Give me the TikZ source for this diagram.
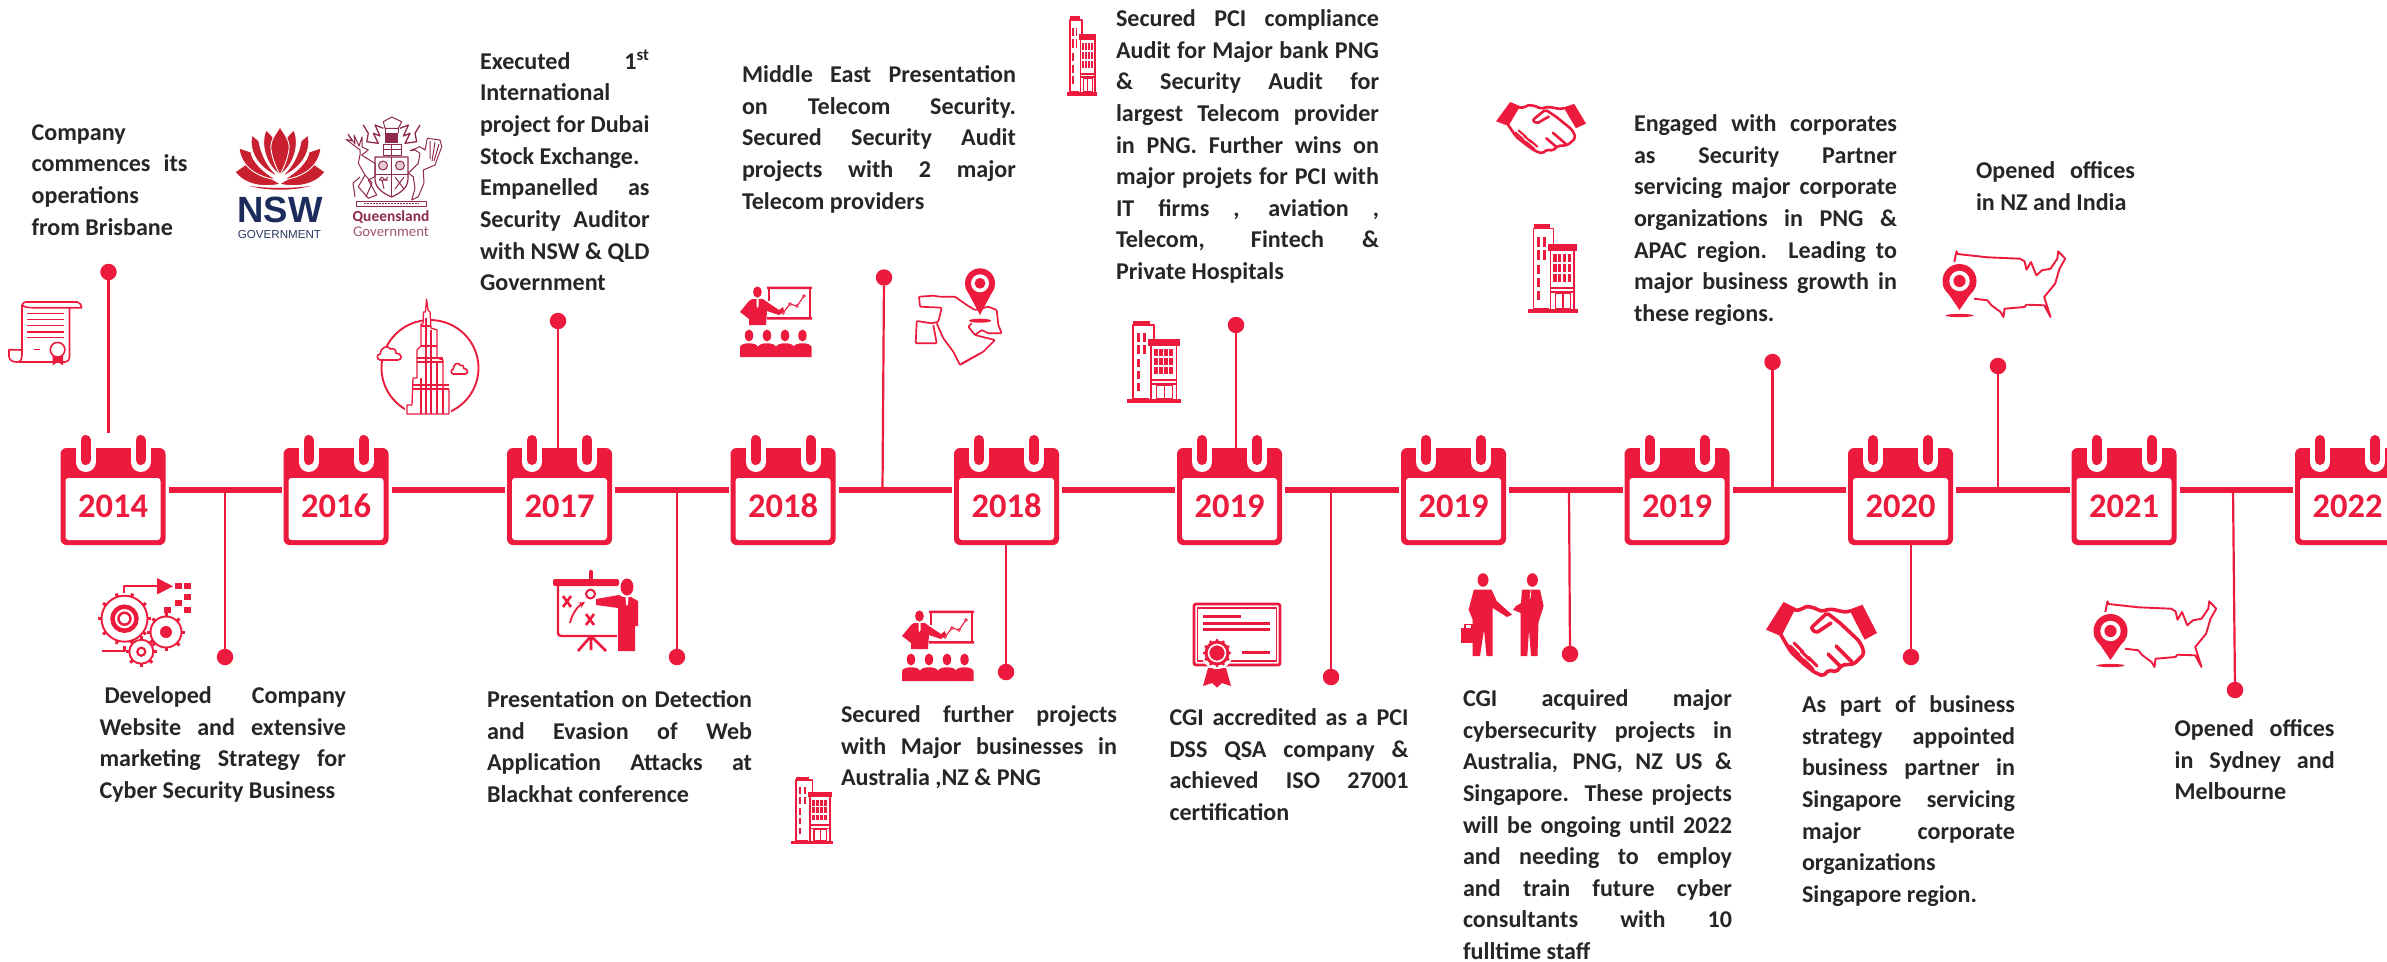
\documentclass[tikz,border=0pt]{standalone}
\usepackage{fontspec}
\setmainfont{Carlito}
\newfontfamily\lib{Liberation Sans}
\definecolor{cgired}{HTML}{EC1A3C}
\definecolor{ink}{HTML}{262626}
\definecolor{waratah}{HTML}{C8202F}
\definecolor{nswnavy}{HTML}{1B2C5C}
\definecolor{qldm}{HTML}{8E2A4E}
\newcommand{\strutline}{\rule[-9pt]{0pt}{22pt}}
\newcommand{\js}[1]{\strutline\makebox[\tw pt][s]{#1}}
\newcommand{\jn}[1]{\strutline #1}
\tikzset{
  txt/.style={anchor=north west,inner sep=0pt,outer sep=0pt,align=left,text=ink,yshift=8.5pt,
    font=\fontsize{24.1}{31.65}\selectfont\bfseries},
  calbody/.style={draw=none,fill=cgired,rounded corners=6pt,minimum width=105pt,minimum height=97pt,inner sep=0pt,outer sep=0pt},
  calinner/.style={draw=none,fill=white,rounded corners=3pt,minimum width=95pt,minimum height=62pt,inner sep=0pt},
  yeartext/.style={text=cgired,inner sep=0pt,font=\fontsize{34.5}{36}\selectfont\bfseries},
  bar/.style={cgired,line width=6.5pt,shorten <=3pt,shorten >=2pt},
  stem/.style={cgired,line width=2.2pt},
  dot/.style={circle,fill=cgired,draw=none,minimum size=16.5pt,inner sep=0pt,outer sep=0pt},
  ico/.style={cgired,line width=1.6pt,line join=round},
  qld/.style={qldm,line width=1pt,line join=round},
  petal/.style={fill=waratah,draw=white,line width=.9pt,line join=round}
}
\newcommand{\calmark}[3]{%
  \node[calbody] (#1) at (#2,496.5) {};
  \node[calinner] (#1i) at (#2,509) {};
  \node[yeartext] (#1y) at (#2,506) {#3};
  \foreach \s in {-27.5,27.5}{
    \draw[white,line width=20pt,line cap=round] (#2+\s,440)--(#2+\s,462);
    \draw[cgired,line width=10pt,line cap=round] (#2+\s,440)--(#2+\s,460);
  }
}
% building: x y w h
\newcommand{\bld}[4]{%
 \begin{scope}[shift={(#1,#2)},xscale=#3/53,yscale=#4/82]
  \fill[cgired] (0,78) rectangle (53,82);
  \draw[ico] (6,4) rectangle (27,78);
  \fill[cgired] (6,0) rectangle (23,5);
  \foreach \yy in {12,24}{\fill[cgired] (10,\yy) rectangle (13,\yy+9);\fill[cgired] (16,\yy) rectangle (19,\yy+9);}
  \foreach \yy in {38,50,62}{\fill[cgired] (10,\yy) rectangle (13,\yy+8);}
  \fill[white] (22,20) rectangle (51,78);
  \draw[ico] (24,22) -- (24,78) (49,22) -- (49,78);
  \fill[cgired] (21,18) rectangle (52,25);
  \foreach \xx in {27,32,37,42}{\foreach \yy in {28,37,46}{\fill[cgired] (\xx,\yy) rectangle (\xx+3.4,\yy+7);}}
  \fill[cgired] (24,58) rectangle (49,60);
  \fill[cgired] (24,62) rectangle (49,63.5);
  \draw[ico,line width=1.2pt] (29,64) rectangle (45,78) (37,64)--(37,78);
 \end{scope}}
% teacher with chart and audience
\newcommand{\teacher}[2]{%
 \begin{scope}[shift={(#1,#2)}]
  \fill[cgired] (27,.5) rectangle (72,3) (27,31) rectangle (72,33.5);
  \draw[ico,line width=1.2pt] (29,2)--(29,15) (70,2)--(70,32);
  \draw[ico,line width=1.1pt] (43,27)--(50,18)--(57,20)--(64,10);
  \foreach \p in {(43,27),(50,18),(57,20),(64,10)} \draw[ico,line width=.9pt,fill=white] \p circle (1.4);
  \fill[cgired] (17.4,6) ellipse [x radius=4.4,y radius=5.6];
  \fill[cgired] (12,13)--(23,13)--(27,16)--(39,24)--(43,21)--(44,25)--(39,29)--(27,25)--(26,39)--(9,39)--(9,33)--(0,26)--(9,15)--cycle;
  \fill[white] (16.5,13)--(18.5,13)--(18.5,20)--(17.5,22)--(16.5,20)--cycle;
  \foreach \q in {9,27,45,62.5}{
    \fill[cgired] (\q,49.5) ellipse [x radius=4.2,y radius=6];
    \fill[cgired] (\q-9,71) -- (\q-9,61) .. controls (\q-8,56) and (\q+8,56) .. (\q+9,61) -- (\q+9,71) -- cycle;
  }
 \end{scope}}
% pin: cx head-y r tip-y
\newcommand{\pinmark}[4]{%
  \fill[cgired] (#1,#2) circle (#3);
  \fill[cgired] (#1-#3*.96,#2+#3*.3)--(#1,#4)--(#1+#3*.96,#2+#3*.3)--cycle;
  \fill[white] (#1,#2) circle (#3*.6);
  \fill[cgired] (#1,#2) circle (#3*.36);
}
% USA map with pin
\newcommand{\usamap}[2]{%
 \begin{scope}[shift={(#1,#2)}]
  \draw[ico,line width=1.9pt] (11.8,11)--(14,.3)--(14.9,3)--(44.7,6.3)--(77.6,7.7)--(82,10.3)--(84,18.7)--(88.5,11)--(93.8,24.3)--(99.5,19.3)--(108,17.7)--(114.8,7.7)--(115.7,.3)--(122.7,7.7)--(117,17.7)--(112.6,32.7)--(101.7,46)--(108,66)--(101.7,54.3)--(84,53.7)--(82,56)--(62,57.7)--(61,66)--(58,61)--(49,54.3)--(44.7,49.3)--(31.5,47.7);
  \pinmark{17}{30}{17}{59}
  \fill[cgired] (17,64.5) ellipse [x radius=14,y radius=1.6];
 \end{scope}}
% handshake
\newcommand{\shake}[5]{%
 \begin{scope}[shift={(#1,#2)},xscale=#3/111,yscale=#4/76]
  \fill[cgired] (17.5,0)--(29.8,6)--(15.3,34.3)--(0,27.7)--cycle;
  \fill[cgired] (96.4,2.7)--(111,31)--(98.6,37.7)--(83.3,7.7)--cycle;
  \draw[cgired,line width=#5pt,line join=round,line cap=round,rounded corners=2pt]
    (29,8) .. controls (36,9) and (38,4) .. (44,5) .. controls (50,6) and (54,10) .. (60,8) .. controls (70,6) and (76,12) .. (84,9)
    (15,33) -- (25,50) -- (38,62) -- (48,70) -- (57,74) -- (63,68) -- (70,70) -- (76,63) -- (88,62) -- (98,52) -- (96,44) -- (92,38)
    (92,38) -- (74,21) -- (61,11) -- (45,26) -- (50,31) -- (65,21);
  \draw[cgired,line width=#5pt,line cap=round] (70,44)--(86,60) (62,52)--(74,64);
  \foreach \xx/\yy in {24/44,31/52,38/58}{
    \draw[cgired,line width=#5pt*.8,line cap=round] (\xx,\yy)--(\xx+9,\yy+9);
    \draw[cgired,line width=#5pt*.8,line cap=round] (\xx+4,\yy-3)--(\xx+13,\yy+6);
  }
 \end{scope}}
\newcommand{\cloudmark}[4]{%
 \begin{scope}[shift={(#1,#2)},xscale=#3/24,yscale=#4/15]
  \draw[ico,fill=white] (3,15) .. controls (0,15) and (-1,9) .. (3,9) .. controls (3,3) and (10,-1) .. (13,4) .. controls (16,3) and (19,5) .. (18,8) .. controls (24,8) and (25,15) .. (20,15) -- cycle;
 \end{scope}}
\newcommand{\gearmark}[5]{% cx cy r teeth inner
  \foreach \a in {0,#4,...,359}{\draw[cgired,line width=3pt] (#1,#2)++(\a:#3-2) -- ++(\a:4);}
  \draw[cgired,line width=1.9pt,fill=white] (#1,#2) circle (#3-1.5);
}
\newcommand{\petalsL}{%
  \path[petal] (0,45) -- (17,33) .. controls (24,44) and (36,52) .. (46,57) .. controls (28,61) and (10,58) .. (0,45) -- cycle;
  \path[petal] (4,21) -- (16,25) .. controls (17,34) and (28,45) .. (42,53) .. controls (22,50) and (6,40) .. (4,21) -- cycle;
  \path[petal] (17,8) -- (24,14) .. controls (26,28) and (34,42) .. (44,50) .. controls (24,42) and (13,25) .. (17,8) -- cycle;
  \path[petal] (31,3) .. controls (36,7) and (39,11) .. (41,16) -- (45,48) .. controls (31,38) and (25,18) .. (31,3) -- cycle;
}
\begin{document}
\begin{tikzpicture}[x=1pt,y=-1pt]
\useasboundingbox (0,0) rectangle (2387,961);
\fill[white] (0,0) rectangle (2387,961);

% ---------- calendars
\calmark{c1}{113}{2014}
\calmark{c2}{336}{2016}
\calmark{c3}{559.5}{2017}
\calmark{c4}{783}{2018}
\calmark{c5}{1006.5}{2018}
\calmark{c6}{1229.5}{2019}
\calmark{c7}{1453.5}{2019}
\calmark{c8}{1677}{2019}
\calmark{c9}{1900.5}{2020}
\calmark{c10}{2124}{2021}
\calmark{c11}{2347.5}{2022}
\foreach \a/\b in {c1/c2,c2/c3,c3/c4,c4/c5,c5/c6,c6/c7,c7/c8,c8/c9,c9/c10,c10/c11}
  \draw[bar] ([yshift=6.5pt]\a.east) -- ([yshift=6.5pt]\b.west);

% ---------- connectors
\node[dot] (d1) at (108.5,272) {};
\coordinate (e1) at (108.5,433);
\draw[stem] (d1) -- (e1);
\node[dot] (d2) at (225,657) {};
\coordinate (j2) at (225,490);
\draw[stem] (j2) -- (d2);
\node[dot] (d3) at (558,321) {};
\draw[stem] (d3) -- (d3 |- c3.north);
\node[dot] (d4) at (677,657) {};
\coordinate (j4) at (677,490);
\draw[stem] (j4) -- (d4);
\node[dot] (d5) at (884,277.5) {};
\coordinate (j5) at (882.5,490);
\draw[stem] (d5) -- (j5);
\node[dot] (d6) at (1006,672) {};
\draw[stem] (d6) -- (d6 |- c5.south);
\node[dot] (d7) at (1236,325) {};
\draw[stem] (d7) -- (d7 |- c6.north);
\node[dot] (d8) at (1331,677) {};
\coordinate (j8) at (1331,490);
\draw[stem] (j8) -- (d8);
\node[dot] (d9) at (1570,654) {};
\coordinate (j9) at (1569,490);
\draw[stem] (j9) -- (d9);
\node[dot] (d10) at (1772.5,362) {};
\coordinate (j10) at (1772.5,490);
\draw[stem] (d10) -- (j10);
\node[dot] (d11) at (1911,657) {};
\draw[stem] (d11) -- (d11 |- c9.south);
\node[dot] (d12) at (1998,366) {};
\coordinate (j12) at (1998,490);
\draw[stem] (d12) -- (j12);
\node[dot] (d13) at (2235,690) {};
\coordinate (j13) at (2233,490);
\draw[stem] (j13) -- (d13);

% ---------- texts
\node[txt] (t1) at (31.6,133) {\gdef\tw{156}\jn{Company}\\\js{commences its}\\\jn{operations}\\\jn{from Brisbane}};
\node[txt] (t2) at (99.5,695) {\gdef\tw{246.5}\js{\hspace*{5pt}Developed Company}\\\js{Website and extensive}\\\js{marketing Strategy for}\\\jn{Cyber Security Business}};
\node[txt] (t3) at (480,58) {\gdef\tw{169.5}\js{Executed 1\textsuperscript{st}}\\\jn{International}\\\js{project for Dubai}\\\jn{Stock Exchange.}\\\js{Empanelled as}\\\js{Security Auditor}\\\js{with NSW \& QLD}\\\jn{Government}};
\node[txt] (t4) at (487,699) {\gdef\tw{265}\js{Presentation on Detection}\\\js{and Evasion of Web}\\\js{Application Attacks at}\\\jn{Blackhat conference}};
\node[txt] (t5) at (742,74) {\gdef\tw{274}\js{Middle East Presentation}\\\js{on Telecom Security.}\\\js{Secured Security Audit}\\\js{projects with 2 major}\\\jn{Telecom providers}};
\node[txt] (t6) at (841,714) {\gdef\tw{276}\js{Secured further projects}\\\js{with Major businesses in}\\\jn{Australia ,NZ \& PNG}};
\node[txt] (t7) at (1116,18) {\gdef\tw{263}\js{Secured PCI compliance}\\\js{Audit for Major bank PNG}\\\js{\& Security Audit for}\\\js{largest Telecom provider}\\\js{in PNG. Further wins on}\\\js{major projets for PCI with}\\\js{IT firms , aviation ,}\\\js{Telecom, Fintech \&}\\\jn{Private Hospitals}};
\node[txt] (t8) at (1169.5,717) {\gdef\tw{239}\js{CGI accredited as a PCI}\\\js{DSS QSA company \&}\\\js{achieved ISO 27001}\\\jn{certification}};
\node[txt] (t9) at (1463,698) {\gdef\tw{269}\js{CGI acquired major}\\\js{cybersecurity projects in}\\\js{Australia, PNG, NZ US \&}\\\js{Singapore. These projects}\\\js{will be ongoing until 2022}\\\js{and needing to employ}\\\js{and train future cyber}\\\js{consultants with 10}\\\jn{fulltime staff}};
\node[txt] (t10) at (1634,123) {\gdef\tw{263}\js{Engaged with corporates}\\\js{as Security Partner}\\\js{servicing major corporate}\\\js{organizations in PNG \&}\\\js{APAC region. Leading to}\\\js{major business growth in}\\\jn{these regions.}};
\node[txt] (t11) at (1802,704) {\gdef\tw{213}\js{As part of business}\\\js{strategy appointed}\\\js{business partner in}\\\js{Singapore servicing}\\\js{major corporate}\\\jn{organizations}\\\jn{Singapore region.}};
\node[txt] (t12) at (1976,170) {\gdef\tw{159}\js{Opened offices}\\\jn{in NZ and India}};
\node[txt] (t13) at (2174.6,728) {\gdef\tw{160}\js{Opened offices}\\\js{in Sydney and}\\\jn{Melbourne}};

% ---------- scroll icon
\begin{scope}[shift={(9,302)}]
  \draw[ico] (23,5.7) .. controls (19,5.7) and (15,5) .. (13,3) .. controls (14,1) and (15,0) .. (17,0) -- (68.4,0) .. controls (71,1) and (72.7,3) .. (72.7,5.7) -- (23,5.7);
  \draw[ico] (13,3) -- (13,50) .. controls (13,56) and (13,60) .. (8,60) -- (56,60) .. controls (59,60) and (60.5,58) .. (60.5,55) -- (60.5,5.7);
  \draw[ico] (13,48) -- (0,47.7) -- (0,54) .. controls (0,58) and (3,60) .. (8,60);
  \foreach \yy in {11.7,17.7,23.3,30,35.7} \draw[ico,line width=1.3pt] (18,\yy)--(55,\yy);
  \draw[ico,line width=1.3pt] (25,47.7)--(31,47.7);
  \fill[cgired] (43.6,54)--(54,54)--(54,63.3)--(48.8,60)--(43.6,63.3)--cycle;
  \draw[ico,fill=white] (48.6,47.7) circle (7.3);
\end{scope}

% ---------- NSW logo
\begin{scope}[shift={(235,127)}]
  \begin{scope}\petalsL\end{scope}
  \begin{scope}[shift={(90,0)},xscale=-1]\petalsL\end{scope}
  \path[petal] (45,0) .. controls (50,8) and (55,14) .. (54,22) .. controls (53,32) and (48,42) .. (45,48) .. controls (42,42) and (37,32) .. (36,22) .. controls (35,14) and (40,8) .. (45,0) -- cycle;
  \fill[waratah] (14,59) .. controls (34,64) and (56,64) .. (76,59) .. controls (56,61.5) and (34,61.5) .. (14,59) -- cycle;
\end{scope}
\node[inner sep=0pt,text=nswnavy,font={\lib\fontsize{36.5}{36}\selectfont\bfseries}] (nsw) at (280,209.5) {NSW};
\node[inner sep=0pt,text=nswnavy!85!gray,font={\lib\fontsize{11.6}{12}\selectfont}] (nswg) at (279.5,235) {GOVERNMENT};

% ---------- Queensland crest
\begin{scope}[shift={(346,117)}]
  % shield
  \draw[qld,line width=1.2pt] (29,40) -- (62,40) -- (62,62) .. controls (62,72) and (52,77) .. (45.7,80) .. controls (39,77) and (29,72) .. (29,62) -- cycle;
  \draw[qld] (45.7,40)--(45.7,80) (29,57)--(62,57);
  \draw[qld,fill=qldm!25] (37,48.5) circle (4.5) (54,48.5) circle (4.5);
  \draw[qld] (33,63)--(36,60)--(39,63)--(42,60) (33,63)--(42,63) (36,63)--(38,72) (49,60)--(58,72) (58,60)--(49,72);
  % crown and helm
  \fill[qldm] (39,16.3) rectangle (52,26.3);
  \draw[qld] (37.3,4.7) -- (45.7,0) -- (55.7,4.7) -- (52.3,11.3) -- (39,11.3) -- cycle;
  \draw[qld] (39,11.3) -- (39,16.3) (52.3,11.3) -- (52.3,16.3) (37,27) rectangle (55,38);
  \draw[qld] (45.7,27)--(45.7,38) (37,32)--(55,32);
  % mantling
  \draw[qld,line width=1.3pt] (17.3,8) -- (22.3,16.3) -- (20.7,24.7) -- (32.3,26.3) -- (27.3,16.3) -- (34,19) -- (29,8) -- (37.3,11.3);
  \draw[qld,line width=1.3pt] (74,8) -- (69,16.3) -- (70.7,24.7) -- (59,26.3) -- (64,16.3) -- (57.4,19) -- (62.4,8) -- (54,11.3);
  % stag
  \draw[qld] (14,33) -- (0,22.3) -- (6,24) -- (2,17) -- (9,27) -- (8,18) -- (13,29) -- (16,20) -- (16,30) -- (22.3,33) -- (15.7,38) -- (20.7,41.3) -- (29,46.3) -- (29,59.7) -- (22.3,63) -- (30.7,78) -- (22.3,81.3) -- (12.3,69.7) -- (19,58) -- (12.3,46.3) -- (14,38) -- cycle;
  \draw[qld] (14,60) -- (7,66) -- (9,80) (19,58) -- (26,66) -- (20,80);
  % brolga
  \draw[qld] (81.3,21.3) -- (94,23) -- (95.7,29.7) -- (89,48) -- (77.3,53) -- (78,66) -- (72.3,79.7) -- (65.7,83) -- (69,71.3) -- (67.3,59.7) -- (62.3,56.3) -- (72.3,46.3) -- (74,36.3) -- (69,33) -- (64,33.7) -- (74,29.7) -- (79,33) -- cycle;
  \draw[qld] (84,24) -- (84,42) (89,25) -- (86,44) (93,27) -- (88,44);
  % motto
  \draw[qld] (10.7,84) rectangle (80.7,89.5);
  \draw[qld,line width=1.4pt,dash pattern=on 2pt off 1pt] (18,86.7)--(73,86.7);
\end{scope}
\node[inner sep=0pt,text=qldm,font=\fontsize{15.4}{16}\selectfont\bfseries] (qg1) at (391,217) {Queensland};
\node[inner sep=0pt,text=qldm!80!white,font=\fontsize{14.8}{16}\selectfont] (qg2) at (391,232) {Government};

% ---------- Burj circle icon
\draw[ico,line width=1.9pt] (430,368) ellipse [x radius=48.5,y radius=48];
\fill[white] (405,408) rectangle (451,418);
\draw[ico,fill=white,line width=1.3pt] (426.5,299) -- (425.5,312) -- (423.5,312) -- (423,324) -- (421,324) -- (421,346) -- (417,350) -- (417,378) -- (413,378) -- (412,405) -- (407,405) -- (407,414) -- (449,414) -- (449,390) -- (443,388) -- (443,360) -- (437,358) -- (437,330) -- (431,328) -- (430,312) -- (428,310) -- cycle;
\draw[ico,line width=1.1pt] (426,318)--(426,414) (431,330)--(431,414) (421,346)--(437,346) (417,358)--(443,358) (417,362)--(443,362) (413,385)--(449,385) (413,389)--(449,389) (421,326)--(431,326) (437,362)--(437,414) (421,378)--(421,414) (443,390)--(443,414);
\cloudmark{377}{345}{25}{15}
\cloudmark{451}{362}{17}{12}

% ---------- gears icon
\begin{scope}[shift={(100,579)}]
  \draw[ico,line width=2.2pt] (24,14)--(24,7.3)--(57,7.3);
  \fill[cgired] (57,-1)--(73,7.3)--(57,15.5)--cycle;
  \foreach \q/\w in {78/7,87/7,87/18,78/24,87/31,67.5/31} \fill[cgired] (\q-3.5,\w-3) rectangle (\q+3.5,\w+3);
  \gearmark{24.5}{39.7}{24.5}{36}{0}
  \draw[cgired,line width=4.5pt] (24.5,39.7) circle (12);
  \draw[cgired,line width=2.5pt] (24.5,39.7) circle (6);
  \gearmark{66}{53}{17}{45}{0}
  \fill[cgired] (66,53) circle (6);
  \gearmark{41.3}{72.7}{13.5}{45}{0}
  \draw[cgired,line width=2.2pt] (41.3,72.7) circle (4);
  \draw[ico,line width=2.2pt] (1.5,72)--(24.5,72)--(24.5,67);
\end{scope}

% ---------- strategy presenter
\begin{scope}[shift={(553,570)}]
  \draw[cgired,line width=3.5pt,line cap=round] (38,1.5)--(38,10);
  \fill[cgired,rounded corners=2pt] (0,9) rectangle (66,16);
  \draw[ico,line width=2.4pt,rounded corners=3pt] (5,16)--(5,66)--(64,66);
  \draw[ico,line width=2.6pt] (38,66)--(25,81) (38,66)--(53,81) (38,66)--(38,80);
  \draw[ico,line width=2.6pt] (10,26)--(18,37) (18,26)--(10,37) (33,44)--(41,55) (41,44)--(33,55);
  \draw[ico,line width=2pt] (37.5,24) circle (4.5);
  \draw[ico,line width=1.8pt,-stealth] (17,53) .. controls (19,44) and (24,37) .. (32,32);
  \fill[cgired] (74,17) ellipse [x radius=6.5,y radius=8.5];
  \fill[cgired] (43,29)--(66,25)--(70,27)--(78,27)--(85,31)--(85,56)--(82,56)--(82,81)--(65,81)--(65,38)--(43,35)--cycle;
  \fill[white] (72.5,27)--(75.5,27)--(75,34)--(74,36)--(73,34)--cycle;
\end{scope}

% ---------- teachers
\teacher{740}{286}
\teacher{902}{610}

% ---------- Middle East map
\begin{scope}[shift={(915,266)}]
  \draw[ico,line width=1.7pt,rounded corners=1pt] (4,30.7)--(18.3,29.7)--(25,30.7)--(40,30.7)--(51.7,39)--(60,44)--(73.3,40.7)--(81.7,44)--(83.3,59)--(86.7,67.3)--(73.3,67.3)--(66.7,64)--(60,69)--(53.3,60.7)--(56.7,57.3);
  \draw[ico,line width=1.7pt,rounded corners=1pt] (60,69)--(80,74)--(68.3,85.7)--(45,99)--(38.3,85.7)--(28.3,72.3)--(21.7,57.3);
  \draw[ico,line width=1.7pt,rounded corners=1pt] (4,30.7)--(5,40.7)--(26.7,41.7)--(23.3,55.7)--(16.7,57.3)--(1.7,55)--(.7,77.3)--(21.7,77.3)--(18.3,59);
  \draw[ico,line width=1.3pt] (46.7,97.3)--(65,87.3);
  \pinmark{65}{17.3}{15}{49}
  \fill[cgired] (65,54.7) ellipse [x radius=11,y radius=2];
\end{scope}

% ---------- buildings
\bld{1066.5}{16}{30.5}{80}
\bld{1127}{321}{53.5}{82}
\bld{791}{777}{42}{67}
\bld{1528}{224}{50}{89}

% ---------- certificate
\begin{scope}[shift={(1193,603)}]
  \draw[ico,line width=2.8pt,rounded corners=2pt] (1,1) rectangle (87,62);
  \draw[ico,line width=1.1pt] (4.5,5) rectangle (83.5,58);
  \draw[ico,line width=3pt] (10.2,13.3)--(48,13.3) (10.2,20)--(76.5,20) (10.2,26.7)--(76.5,26.7) (48.5,49.3)--(76.5,49.3);
  \fill[cgired] (15,65)--(10,83)--(19,80)--(24,84.5)--(29,80)--(38,83)--(33,65)--cycle;
  \fill[white] (24,50) circle (16);
  \foreach \a in {0,30,...,330}\fill[cgired] (24,50)++(\a:12.8) circle (1.6);
  \fill[cgired] (24,50) circle (12.5);
  \draw[white,line width=1.6pt,fill=cgired] (24,50) circle (8.5);
\end{scope}

% ---------- handshakes
\shake{1496}{102}{90}{53}{2.6}
\shake{1766}{602}{111}{76}{3.6}

% ---------- businessmen
\begin{scope}[shift={(1461,573)}]
  \fill[cgired] (22,7) ellipse [x radius=5.5,y radius=6.8];
  \fill[cgired] (12.8,16.7)--(30.6,16.7)--(35.7,28)--(51,41.7)--(46,44)--(31.6,35)--(31.6,53)--(31.6,83)--(25.5,83)--(23,56.7)--(19,83)--(11.7,83)--(11.7,46.7)--(7.6,36.7)--cycle;
  \fill[cgired] (0,55) rectangle (15,70);
  \draw[ico,line width=1.2pt] (4,55)--(4,51.7)--(11,51.7)--(11,55);
  \fill[cgired] (71.4,7) ellipse [x radius=5.5,y radius=6.8];
  \fill[cgired] (61,16.7)--(79,16.7)--(82.6,33)--(77.5,49.3)--(76.5,83)--(70,83)--(68,56.7)--(66.3,83)--(59.7,83)--(59.7,40)--(52,36.7)--(55,33)--(60,30)--cycle;
  \draw[white,line width=.7pt] (70,17)--(69,26);
\end{scope}

% ---------- USA maps
\usamap{1942.5}{251}
\usamap{2093.5}{601}
\end{tikzpicture}
\end{document}
